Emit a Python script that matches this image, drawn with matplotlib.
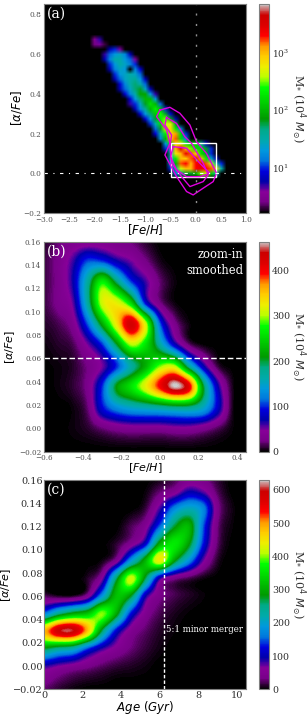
import numpy as np
import matplotlib
matplotlib.use('Agg')
import matplotlib.pyplot as plt
from matplotlib.colors import Normalize, LogNorm
from matplotlib.cm import ScalarMappable
from matplotlib.patches import Rectangle

W, H = 307, 717
plt.rcParams['font.family'] = 'DejaVu Serif'

# ---- panel (a): log10 mass, rows of (alpha, first [Fe/H], values) ----
a_alpha = [.675,.65,.625,.60,.575,.55,.525,.50,.475,.45,.425,.40,.375,.35,.325,.30,.275,.25,.225,.20,.175,.15,.125,.10,.075,.05,.025,0.0]
a_start = [-2.0,-2.0,-1.7,-1.8,-1.8,-1.7,-1.7,-1.6,-1.6,-1.5,-1.5,-1.4,-1.3,-1.3,-1.2,-1.1,-1.0,-.9,-.8,-.8,-.7,-.6,-.6,-.5,-.5,-.5,-.5,-.4]
a_vals = [
 [.5,.7],
 [.4,.6,.3],
 [.8,1.0,.6],
 [.7,1.1,1.3,1.4,1.2,.8],
 [.8,1.2,1.5,1.5,1.3,1.1,.6],
 [1.0,1.3,1.5,1.4,1.2,1.0],
 [.8,1.2,1.4,1.3,0,1.2,.9],
 [1.0,1.3,1.4,1.5,1.4,1.1],
 [.8,1.1,1.4,1.5,1.6,1.3,.8],
 [.9,1.2,1.5,1.7,1.5,1.1],
 [.8,1.1,1.4,1.7,1.8,1.4,.8],
 [.9,1.2,1.5,1.9,1.9,1.3,.7],
 [.9,1.3,1.7,2.0,2.0,1.3],
 [.7,1.0,1.4,1.8,2.2,2.0,1.1],
 [.8,1.2,1.6,2.0,2.3,2.0,1.0],
 [.9,1.3,1.7,2.1,2.4,1.8,.9],
 [.9,1.3,1.8,2.3,2.5,1.9,.8],
 [1.0,1.5,2.2,2.6,2.7,1.8],
 [1.1,1.8,2.6,2.9,2.3,1.2],
 [.9,1.5,2.3,2.9,3.1,2.2,1.0],
 [1.2,2.0,2.9,3.2,2.2,1.2],
 [1.3,2.1,2.9,2.8,2.3,2.0,2.1,1.6,.9],
 [1.0,1.6,3.0,3.5,3.0,2.5,2.2,2.2,1.8,1.0],
 [1.6,2.8,3.0,3.4,3.2,2.9,2.2,1.8,1.0],
 [1.4,2.3,3.0,2.9,3.2,3.4,3.0,2.3,1.4,.8],
 [1.2,2.0,3.2,3.3,3.0,3.3,3.5,3.2,2.6,1.6,1.0],
 [1.0,1.6,2.6,3.0,3.0,3.3,3.4,3.3,3.2,2.8,1.5],
 [1.2,1.6,1.8,1.8,2.0,2.5,2.6,2.2,1.5],
]
# magenta contours
c1_feh = [-.711,-.513,-.316,-.118,.013,.211,.408,.342,.145,-.053,-.184,-.382,-.612,-.513,-.579,-.776,-.711]
c1_alp = [.318,.332,.302,.243,.159,.1,0,-.042,-.075,-.109,-.092,-.017,.092,.151,.218,.285,.318]
c2_feh = [-.579,-.382,-.217,-.086,.145,.243,.145,-.118,-.283,-.48,-.513,-.48,-.612,-.579]
c2_alp = [.281,.251,.184,.151,.05,-.008,-.042,-.067,-.017,.05,.134,.193,.243,.281]
c3_feh = [-.447,-.184,.079,.276,.079,-.184,-.382,-.5,-.447]
c3_alp = [.134,.126,.05,0,-.017,-.017,.017,.084,.134]

# ---- panel (b) ----
b_feh = [-.6,-.525,-.45,-.375,-.3,-.225,-.15,-.075,0,.075,.15,.225,.3,.375,.45]
b_alpha = [.162,.144,.126,.108,.09,.072,.054,.036,.018,0,-.018]
b_mass = [
 [8,20,30,30,30,25,20,8,0,0,0,0,0,0,0],
 [12,30,60,105,100,70,50,25,5,0,0,0,0,0,0],
 [12,30,70,170,270,190,105,60,20,3,0,0,0,0,0],
 [12,30,55,170,310,320,250,90,25,3,0,0,0,0,0],
 [8,15,35,110,220,330,430,310,110,30,3,0,0,0,0],
 [3,8,15,50,100,200,300,260,170,80,20,2,0,0,0],
 [1,3,8,25,50,100,170,225,290,300,170,70,10,0,0],
 [0,3,10,30,100,210,260,320,400,462,410,200,70,5,0],
 [0,0,3,20,90,130,150,160,170,180,180,150,80,5,0],
 [0,0,3,8,20,30,35,35,35,40,40,30,15,2,0],
 [0,0,0,0,0,0,0,0,0,0,0,0,0,0,0],
]

# ---- panel (c) ----
c_age = [0,.75,1.5,2.25,3,3.75,4.5,5.25,6,6.75,7.5,8.25,9,9.75,10.5]
c_alpha = [.165,.15,.135,.12,.105,.09,.075,.06,.045,.03,.015,0,-.015,-.03]
c_mass = [
 [0,0,0,0,0,0,0,0,0,15,25,25,10,0,0],
 [0,0,0,0,0,0,0,3,25,45,90,70,20,0,0],
 [0,0,0,0,0,0,0,15,80,170,210,170,40,5,0],
 [0,0,0,0,0,0,20,50,150,270,310,150,30,3,0],
 [0,0,0,0,0,12,45,110,300,360,290,130,25,0,0],
 [0,0,0,0,5,50,190,310,440,290,180,70,10,0,0],
 [0,0,0,10,60,260,420,270,90,40,20,5,0,0,0],
 [20,8,8,45,180,320,280,100,40,20,10,3,0,0,0],
 [160,240,290,320,400,300,130,50,20,8,2,0,0,0,0],
 [480,590,600,480,270,120,50,25,10,3,0,0,0,0,0],
 [280,250,230,150,90,55,30,15,5,0,0,0,0,0,0],
 [90,70,55,40,25,15,10,5,0,0,0,0,0,0,0],
 [35,20,10,5,3,0,0,0,0,0,0,0,0,0,0],
 [15,8,3,0,0,0,0,0,0,0,0,0,0,0,0],
]

cmap = plt.get_cmap('nipy_spectral').copy()
cmap.set_bad('black')
GREY = '#808080'
CB_LABEL = r'M$_{*}$ (10$^4$ $M_{\odot}$)'


def make_axes(top, bottom):
    ax = fig.add_axes([44/W, 1-bottom/H, 202.5/W, (bottom-top)/H])
    cax = fig.add_axes([259.3/W, 1-bottom/H, 10/W, (bottom-top)/H])
    ax.set_facecolor('black')
    for a in (ax, cax):
        for s in a.spines.values():
            s.set_color(GREY)
            s.set_linewidth(.8)
    return ax, cax


def centers_extent(x, y):
    dx, dy = abs(x[1]-x[0]), abs(y[1]-y[0])
    return [min(x)-dx/2, max(x)+dx/2, min(y)-dy/2, max(y)+dy/2]


def place_labels(ax, ylab_px, xlab_px, top, bottom):
    h = bottom-top
    ax.yaxis.set_label_coords((ylab_px-44)/202.5, .5)
    ax.yaxis.label.set_va('center')
    ax.xaxis.set_label_coords(.5, -(xlab_px-bottom)/h)
    ax.xaxis.label.set_va('center')


def finish_cbar(cb, size=6.8):
    cb.ax.tick_params(labelsize=size, length=0, pad=2, which='both', labelcolor='#303030')
    cb.outline.set_edgecolor(GREY)
    cb.set_label(CB_LABEL, fontsize=8, rotation=270, color='#303030')
    cb.ax.yaxis.label.set_va('center')
    cb.ax.yaxis.set_label_coords((298-259.3)/10, .5)


fig = plt.figure(figsize=(W/100, H/100), dpi=100, facecolor='white')

# ---------- (a) ----------
ax, cax = make_axes(4, 213)
grid_x = np.round(np.arange(-2.2, .61, .1), 2)
grid_y = np.round(np.arange(-.025, .726, .025), 3)
grid = np.zeros((len(grid_y), len(grid_x)))
for al, st, vals in zip(a_alpha, a_start, a_vals):
    i = int(round((al-grid_y[0])/.025))
    j = int(round((st-grid_x[0])/.1))
    grid[i, j:j+len(vals)] = vals
lo, hi = 1.64, 6900
ax.imshow(np.ma.masked_equal(grid, 0), origin='lower', extent=centers_extent(grid_x, grid_y), cmap=cmap,
          norm=Normalize(np.log10(lo), np.log10(hi)), interpolation='bilinear',
          interpolation_stage='rgba', aspect='auto')
for fx, fy in ((c1_feh, c1_alp), (c2_feh, c2_alp), (c3_feh, c3_alp)):
    ax.plot(fx, fy, color='#e000e0', lw=1)
ax.add_patch(Rectangle((-.5, -.02), .9, .17, fill=False, ec='white', lw=1))
ax.axvline(0, color='#909090', lw=1, ls=(0, (1.5, 6)))
ax.axhline(0, color='white', lw=.8, ls=(0, (3, 5, 1, 5)))
ax.set_xlim(-3, 1)
ax.set_ylim(-.2, .852)
ax.set_xticks(np.arange(-3, 1.01, .5))
ax.set_yticks(np.arange(-.2, .81, .2))
ax.tick_params(labelsize=5.3, length=0, pad=2, colors='#505050')
ax.set_xlabel(r'$[Fe/H]$', fontsize=8.5, family='DejaVu Sans')
ax.set_ylabel(r'$[\alpha/Fe]$', fontsize=8.5, family='DejaVu Sans')
place_labels(ax, 16.5, 230, 4, 213)
ax.text(.015, .985, '(a)', transform=ax.transAxes, color='white', fontsize=10, va='top')
cb = fig.colorbar(ScalarMappable(LogNorm(lo, hi), cmap), cax=cax)
cb.ax.yaxis.set_minor_locator(plt.NullLocator())
finish_cbar(cb, 6.5)

# ---------- (b) ----------
ax, cax = make_axes(241.7, 451.7)
b_norm = Normalize(0, 464)
ax.imshow(np.array(b_mass)[::-1], origin='lower', extent=centers_extent(b_feh, b_alpha), cmap=cmap,
          norm=b_norm, interpolation='catrom', aspect='auto')
ax.axhline(.06, color='white', lw=1, ls=(0, (4, 2)))
ax.set_xlim(-.6, .448)
ax.set_ylim(-.02, .16)
ax.set_xticks(np.arange(-.6, .41, .2))
ax.set_yticks(np.arange(-.02, .161, .02))
ax.tick_params(labelsize=5.2, length=0, pad=2, colors='#505050')
ax.set_xlabel(r'$[Fe/H]$', fontsize=8, family='DejaVu Sans')
ax.set_ylabel(r'$[\alpha/Fe]$', fontsize=8, family='DejaVu Sans')
place_labels(ax, 10, 468, 241.7, 451.7)
ax.text(.015, .985, '(b)', transform=ax.transAxes, color='white', fontsize=10, va='top')
ax.text(.985, .97, 'zoom-in\nsmoothed', transform=ax.transAxes, color='white', fontsize=8.3, va='top', ha='right', linespacing=1.25)
cb = fig.colorbar(ScalarMappable(b_norm, cmap), cax=cax)
cb.set_ticks(np.arange(0, 401, 100))
finish_cbar(cb)

# ---------- (c) ----------
ax, cax = make_axes(480, 689.3)
c_norm = Normalize(0, 630)
ax.imshow(np.array(c_mass)[::-1], origin='lower', extent=centers_extent(c_age, c_alpha), cmap=cmap,
          norm=c_norm, interpolation='catrom', aspect='auto')
ax.axvline(6.2, color='white', lw=1, ls=(0, (2.5, 1.5)))
ax.set_xlim(0, 10.5)
ax.set_ylim(-.02, .16)
ax.set_xticks(np.arange(0, 10.1, 2))
ax.set_yticks(np.arange(-.02, .161, .02))
ax.tick_params(labelsize=7, length=0, pad=1, colors='#303030')
ax.set_xlabel(r'$Age\ (Gyr)$', fontsize=8.5, family='DejaVu Sans')
ax.set_ylabel(r'$[\alpha/Fe]$', fontsize=8, family='DejaVu Sans')
place_labels(ax, 6.5, 707, 480, 689.3)
ax.text(.015, .985, '(c)', transform=ax.transAxes, color='white', fontsize=10, va='top')
ax.text(.985, .285, '5:1 minor merger', transform=ax.transAxes, color='white', fontsize=6.2, va='center', ha='right')
cb = fig.colorbar(ScalarMappable(c_norm, cmap), cax=cax)
cb.set_ticks(np.arange(0, 601, 100))
finish_cbar(cb)

fig.savefig('out.png', dpi=100, facecolor='white')
